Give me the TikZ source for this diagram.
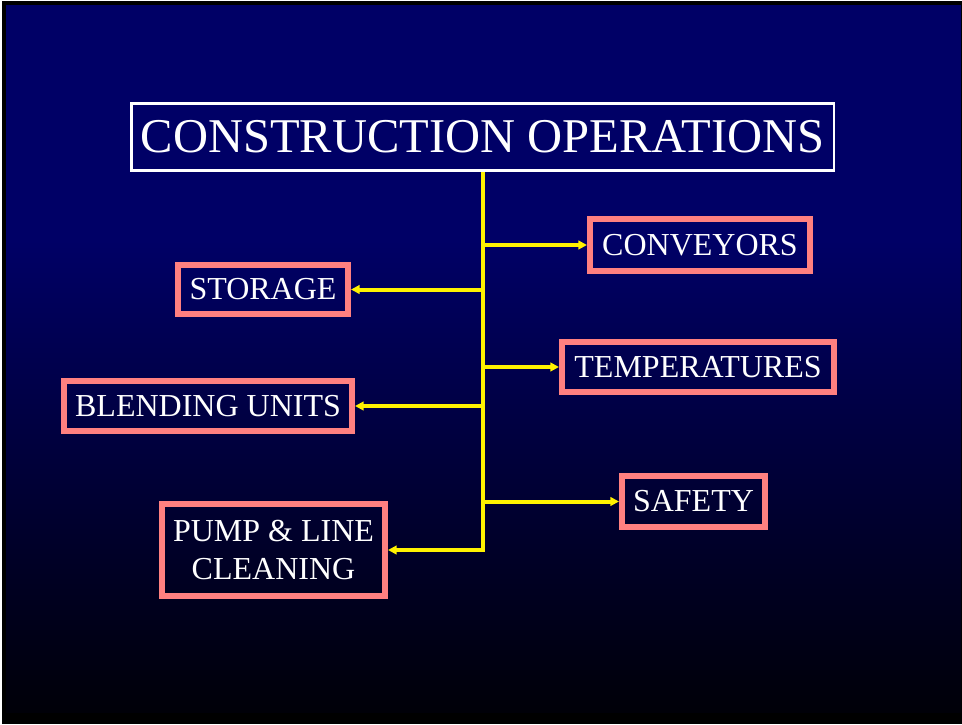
\documentclass[tikz,border=0pt]{standalone}
\usepackage{fontspec}
\setmainfont{Liberation Serif}
\usetikzlibrary{arrows.meta}
\definecolor{navy}{RGB}{0,0,102}
\definecolor{deepnavy}{RGB}{0,0,8}
\definecolor{salmon}{RGB}{255,128,128}
\tikzset{
  box/.style={draw=salmon, line width=4.5pt, text=white, align=center,
    font=\fontsize{24}{28}\selectfont, inner sep=0pt},
  titlebox/.style={draw=white, line width=2pt, text=white,
    font=\fontsize{36.4}{42}\selectfont, inner sep=0pt,
    minimum width=527pt, minimum height=50.6pt},
  branch/.style={draw=yellow, line width=3pt,
    -{Triangle[length=6.5pt,width=6.5pt]}}
}
\begin{document}
\begin{tikzpicture}[x=0.75pt,y=-0.75pt]
% background
\useasboundingbox (0,0) rectangle (962,724);
\fill[white] (0,0) rectangle (962,724);
\fill[black] (1.5,1.5) rectangle (962,724);
\fill[navy] (6,5) rectangle (961,241);
\shade[top color=navy, bottom color=deepnavy] (6,240) rectangle (961,712);

% title
\node[titlebox] (title) at (482.5,137) {CONSTRUCTION OPERATIONS};

% boxes on the right
\node[box, minimum width=165pt, minimum height=39pt] (conveyors) at (700,245) {CONVEYORS};
\node[box, minimum width=204pt, minimum height=37.5pt] (temps) at (698,367) {TEMPERATURES};
\node[box, minimum width=107.25pt, minimum height=38.25pt] (safety) at (693.5,501.5) {SAFETY};

% boxes on the left
\node[box, minimum width=127.5pt, minimum height=36.75pt] (storage) at (263,289.5) {STORAGE};
\node[box, minimum width=216pt, minimum height=37.5pt] (blending) at (208,406) {BLENDING UNITS};
\node[box, minimum width=167.25pt, minimum height=69pt] (pump) at (273.5,550) {PUMP \& LINE\\CLEANING};

% trunk
\draw[branch] (title.south) |- (pump.east);

% branches
\draw[branch] (title.south |- conveyors.west) -- (conveyors.west);
\draw[branch] (title.south |- storage.east) -- (storage.east);
\draw[branch] (title.south |- temps.west) -- (temps.west);
\draw[branch] (title.south |- blending.east) -- (blending.east);
\draw[branch] (title.south |- safety.west) -- (safety.west);
\end{tikzpicture}
\end{document}
